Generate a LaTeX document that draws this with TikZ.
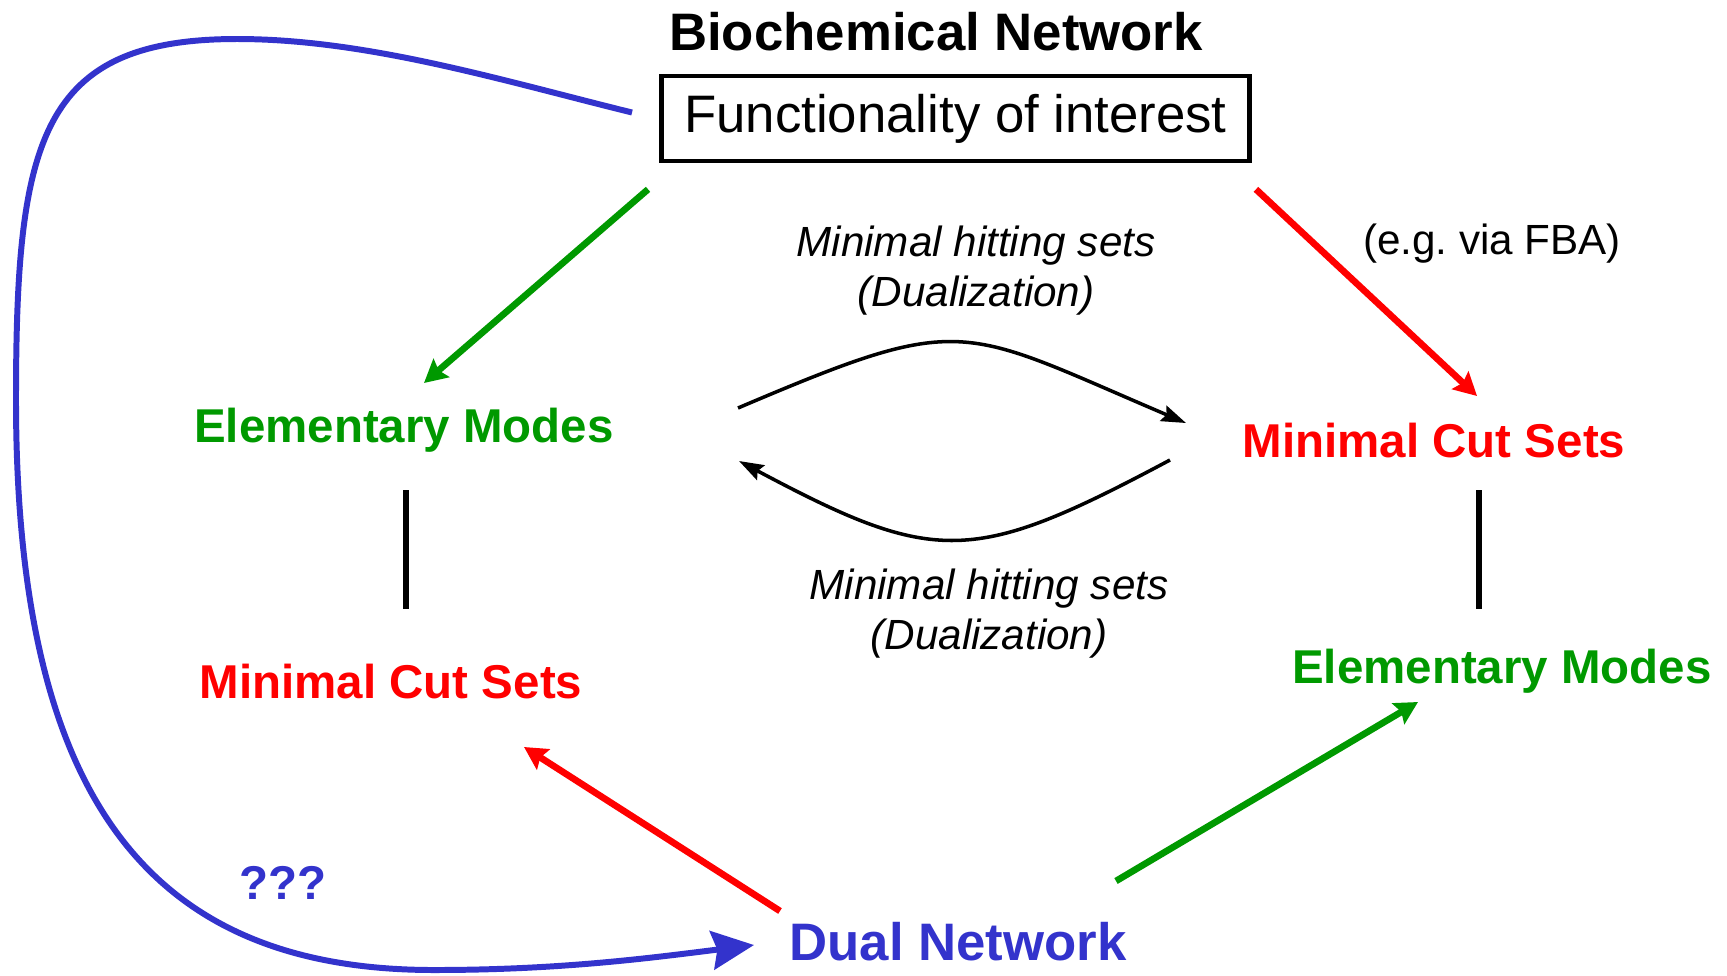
\documentclass[tikz,border=0pt]{standalone}
\usepackage{fontspec}
\setmainfont{Liberation Sans}
\usepackage{tikz}
\usetikzlibrary{arrows.meta}
\definecolor{dualblue}{RGB}{51,51,204}
\definecolor{emgreen}{RGB}{0,153,0}
\definecolor{mcsred}{RGB}{255,0,0}
\tikzset{
  txt/.style={inner sep=0pt, anchor=base},
  ttl/.style={txt, font=\fontsize{15}{18}\selectfont\bfseries},
  box/.style={draw, line width=1.3pt, inner sep=0pt,
    minimum width=5.88cm, minimum height=0.85cm,
    font=\fontsize{15}{18}\selectfont},
  note/.style={txt, font=\fontsize{12}{14}\selectfont},
  hit/.style={inner sep=0pt, align=center,
    font=\fontsize{12}{14.2}\selectfont\itshape},
  em/.style={txt, text=emgreen, font=\fontsize{13.5}{16}\selectfont\bfseries},
  mcs/.style={txt, text=mcsred, font=\fontsize{13.5}{16}\selectfont\bfseries},
  dualtxt/.style={txt, text=dualblue, font=\fontsize{15}{18}\selectfont\bfseries},
  qq/.style={txt, text=dualblue, font=\fontsize{13.5}{16}\selectfont\bfseries},
  garrow/.style={draw=emgreen, line width=1.9pt,
    -{Stealth[length=6.5pt,width=6.8pt,inset=1pt]}},
  rarrow/.style={draw=mcsred, line width=1.9pt,
    -{Stealth[length=6.5pt,width=6.8pt,inset=1pt]}},
  hitarrow/.style={draw=black, line width=1pt,
    -{Stealth[length=7pt,width=4.7pt,inset=1pt]}},
  bluearrow/.style={draw=dualblue, line width=1.7pt,
    -{Stealth[length=12pt,width=11pt,inset=1.5pt]}},
  bar/.style={line width=1.6pt}
}
\begin{document}
\begin{tikzpicture}[x=0.01cm, y=-0.01cm]
  \useasboundingbox (0,0) rectangle (1727,975);

  \node[ttl] (title) at (936,50) {Biochemical Network};
  \node[box] (func) at (955.5,118.5) {Functionality of interest};
  \node[note] (fba) at (1492,254) {(e.g.\ via FBA)};

  \node[hit] (hitTop) at (976,271) {Minimal hitting sets\\(Dualization)};
  \node[hit] (hitBot) at (989,614) {Minimal hitting sets\\(Dualization)};

  \node[em]  (emL)  at (404,442)  {Elementary Modes};
  \node[mcs] (mcsR) at (1434,457) {Minimal Cut Sets};
  \node[mcs] (mcsL) at (391,698)  {Minimal Cut Sets};
  \node[em]  (emR)  at (1502,683) {Elementary Modes};

  \node[qq] (qq) at (283,899) {???};
  \node[dualtxt] (dual) at (958,960) {Dual Network};

  % from the functionality down to both sides
  \draw[garrow] ([shift={(-11,26)}]func.south west) -- ([shift={(20,-59)}]emL.base);
  \draw[rarrow] ([shift={(4,26)}]func.south east) -- ([shift={(43,-61)}]mcsR.base);

  \draw[bar] ([shift={(2,48)}]emL.base) -- ([shift={(15,-89)}]mcsL.base);
  \draw[bar] ([shift={(45,33)}]mcsR.base) -- ([shift={(-23,-74)}]emR.base);

  % dualization both ways
  \draw[hitarrow] ([shift={(334,-34)}]emL.base)
    .. controls +(228,-97) and +(-228,-97) .. ([shift={(-248,-34)}]mcsR.base);
  \draw[hitarrow] ([shift={(-264,3)}]mcsR.base)
    .. controls +(-197,105) and +(197,105) .. ([shift={(335,19)}]emL.base);

  % from the dual network
  \draw[rarrow] ([shift={(-178,-49)}]dual.base) -- ([shift={(133,49)}]mcsL.base);
  \draw[garrow] ([shift={(158,-79)}]dual.base) -- ([shift={(-84,19)}]emR.base);

  % long way round
  \coordinate (topBend) at (237,39);
  \coordinate (leftBend) at (16,400);
  \coordinate (lowBend) at (434,970);
  \draw[bluearrow] ([shift={(-27,-6)}]func.west)
    .. controls +(-130,-32) and +(130,0) .. (topBend)
    .. controls +(-197,0) and +(0,-260) .. (leftBend)
    .. controls +(0,400) and +(-284,0) .. (lowBend)
    .. controls +(126,0) and +(-104,13) .. ([shift={(-204,-15)}]dual.base);
\end{tikzpicture}
\end{document}
